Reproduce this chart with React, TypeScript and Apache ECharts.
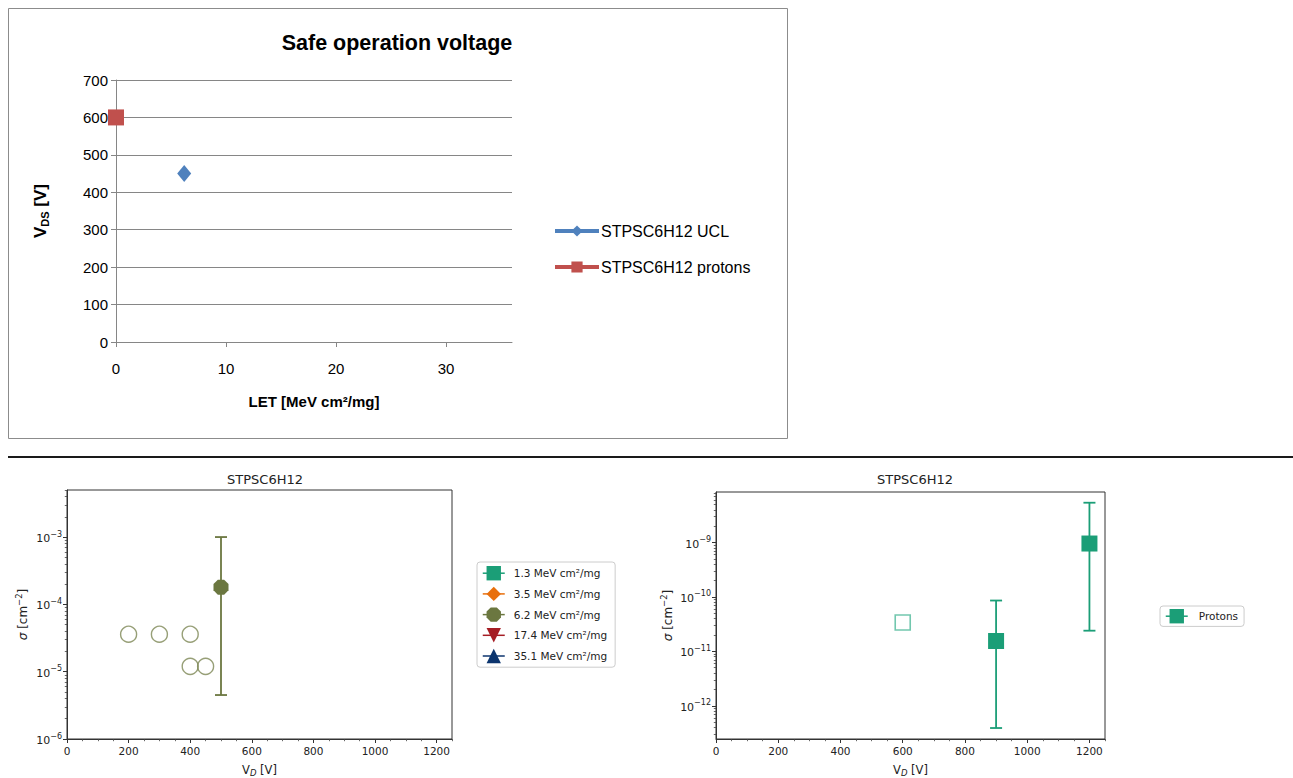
import React, { useEffect, useRef } from "react";
import * as echarts from "echarts";

// ---------- Top chart: Safe operation voltage ----------
const topTitle = "Safe operation voltage";
const uclName = "STPSC6H12 UCL";
const uclLet = [6.2];
const uclVds = [450];
const protonsName = "STPSC6H12 protons";
const protonsLet = [0];
const protonsVds = [600];
const topXTicks = [0, 10, 20, 30];

// ---------- Bottom-left: heavy ions ----------
const ionTitle = "STPSC6H12";
const ionLegend = [
  "1.3 MeV cm²/mg",
  "3.5 MeV cm²/mg",
  "6.2 MeV cm²/mg",
  "17.4 MeV cm²/mg",
  "35.1 MeV cm²/mg",
];
const ionColors = ["#1b9e77", "#e86f0c", "#6b7740", "#a51d24", "#0c356e"];
const octagon = "path://M0.29,0 L0.71,0 L1,0.29 L1,0.71 L0.71,1 L0.29,1 L0,0.71 L0,0.29 Z";
const ionSymbols = ["rect", "diamond", octagon, "triangle", "triangle"];
const ionRotate = [0, 0, 0, 180, 0];
// measured points (only 6.2 MeV cm²/mg has data)
const ion62Vd = [500];
const ion62Sigma = [1.8e-4];
const ion62Low = [4.5e-6];
const ion62High = [1.0e-3];
// no-event limits (open circles)
const ion62LimitVd = [200, 300, 400, 400, 450];
const ion62LimitSigma = [3.6e-5, 3.6e-5, 3.6e-5, 1.2e-5, 1.2e-5];
const ionSigmaMin = 1e-6;
const ionSigmaMax = 5e-3;
const ionDecades = [-6, -5, -4, -3];

// ---------- Bottom-right: protons ----------
const protonTitle = "STPSC6H12";
const protonLegend = "Protons";
const protonColor = "#1b9e77";
const protonVd = [900, 1200];
const protonSigma = [1.55e-11, 9.6e-10];
const protonLow = [3.9e-13, 2.4e-11];
const protonHigh = [8.6e-11, 5.4e-9];
const protonLimitVd = [600];
const protonLimitSigma = [3.4e-11];
const protonSigmaMin = 2.45e-13;
const protonSigmaMax = 8.5e-9;
const protonDecades = [-12, -11, -10, -9];

const vdMax = 1250;
const vdTicks = [0, 200, 400, 600, 800, 1000, 1200];
const minorMultipliers = [2, 3, 4, 5, 6, 7, 8, 9];

const XL = "'Liberation Sans', Arial, sans-serif";
const MPL = "'DejaVu Sans', sans-serif";

const powLabel = (v: number) =>
  Math.abs(v - Math.round(v)) < 1e-6
    ? "{b|10}{p|" + String(Math.round(v)).replace("-", "−") + "}"
    : "";

const lg = (v: number) => Math.log10(v);

function minorLogTicks(lo: number, hi: number) {
  const a = lg(lo), b = lg(hi);
  const out: number[] = [];
  for (let d = Math.floor(a) - 1; d <= Math.ceil(b); d++) {
    for (const m of minorMultipliers) {
      const t = d + lg(m);
      if (t >= a && t <= b) out.push(t);
    }
  }
  return out;
}
const vdMinor = (() => {
  const out: number[] = [];
  for (let v = 50; v <= vdMax; v += 50) if (v % 200 !== 0) out.push(v);
  return out;
})();

function errorBars(xi: number, yi: number, xs: number[], lo: number[], hi: number[], color: string) {
  return {
    type: "custom",
    xAxisIndex: xi,
    yAxisIndex: yi,
    silent: true,
    z: 1,
    data: xs.map((x, i) => [x, lg(lo[i]), lg(hi[i])]),
    encode: { x: 0, y: [1, 2] },
    renderItem: (params: any, api: any) => {
      const x = api.value(0);
      const p1 = api.coord([x, api.value(1)]);
      const p2 = api.coord([x, api.value(2)]);
      const style = { stroke: color, lineWidth: 1.8 };
      return {
        type: "group",
        children: [
          { type: "line", shape: { x1: p1[0], y1: p1[1], x2: p2[0], y2: p2[1] }, style },
          { type: "line", shape: { x1: p1[0] - 6, y1: p1[1], x2: p1[0] + 6, y2: p1[1] }, style },
          { type: "line", shape: { x1: p2[0] - 6, y1: p2[1], x2: p2[0] + 6, y2: p2[1] }, style },
        ],
      };
    },
  };
}

const mplAxisLine = { show: true, onZero: false, lineStyle: { color: "#333", width: 1 } };
const mplTick = { show: true, length: 4, lineStyle: { color: "#333", width: 1 } };
const mplMinorTick = { show: true, length: 2.2, lineStyle: { color: "#444", width: 0.8 } };
const mplLabel = { color: "#222", fontFamily: MPL, fontSize: 10.5, margin: 6 };

function mplXAxes(grid: number, nameCenterGap: number) {
  return [
    {
      type: "value", gridIndex: grid, min: 0, max: vdMax, position: "bottom",
      axisLine: mplAxisLine,
      axisTick: { ...mplTick, customValues: vdTicks },
      axisLabel: { ...mplLabel, customValues: vdTicks, formatter: (v: number) => String(v) },
      splitLine: { show: false },
      name: "{v|V}{s|D}{v| [V]}", nameLocation: "middle", nameGap: nameCenterGap,
      nameTextStyle: {
        rich: {
          v: { fontFamily: MPL, fontSize: 11.5, color: "#222", lineHeight: 14, verticalAlign: "middle" },
          s: { fontFamily: MPL, fontSize: 8.5, fontStyle: "italic", color: "#222", lineHeight: 8, verticalAlign: "bottom" },
        },
      },
    },
    {
      type: "value", gridIndex: grid, min: 0, max: vdMax, position: "bottom",
      axisLine: { show: false, onZero: false },
      axisTick: { ...mplMinorTick, customValues: vdMinor },
      axisLabel: { show: false },
      splitLine: { show: false },
    },
  ];
}

function mplYAxes(grid: number, lo: number, hi: number, decades: number[], gap: number) {
  return [
    {
      type: "value", gridIndex: grid, min: lg(lo), max: lg(hi), position: "left",
      axisLine: mplAxisLine,
      axisTick: { ...mplTick, customValues: decades },
      axisLabel: {
        ...mplLabel, margin: 5, customValues: decades, formatter: powLabel,
        rich: {
          b: { fontFamily: MPL, fontSize: 11, color: "#222", lineHeight: 14, verticalAlign: "bottom" },
          p: { fontFamily: MPL, fontSize: 8, color: "#222", lineHeight: 14, verticalAlign: "top" },
        },
      },
      splitLine: { show: false },
      name: "{g|σ}{t| [cm}{p|−2}{t|]}", nameLocation: "middle", nameGap: gap,
      nameTextStyle: {
        rich: {
          g: { fontFamily: MPL, fontSize: 12, fontStyle: "italic", color: "#222", lineHeight: 15, verticalAlign: "bottom" },
          t: { fontFamily: MPL, fontSize: 12, color: "#222", lineHeight: 15, verticalAlign: "bottom" },
          p: { fontFamily: MPL, fontSize: 8.5, color: "#222", lineHeight: 15, verticalAlign: "top" },
        },
      },
    },
    {
      type: "value", gridIndex: grid, min: lg(lo), max: lg(hi), position: "left",
      axisLine: { show: false, onZero: false },
      axisTick: { ...mplMinorTick, customValues: minorLogTicks(lo, hi) },
      axisLabel: { show: false },
      splitLine: { show: false },
    },
  ];
}

export default function App() {
  const ref = useRef<HTMLDivElement>(null);

  useEffect(() => {
    if (!ref.current) return;
    const chart = echarts.init(ref.current, null, { renderer: "svg" });

    const ionLineSeries = ionLegend.map((name, i) => ({
      type: "line",
      name,
      xAxisIndex: 1,
      yAxisIndex: 1,
      data: i === 2 ? ion62Vd.map((v, k) => [v, lg(ion62Sigma[k])]) : [],
      symbol: ionSymbols[i],
      symbolRotate: ionRotate[i],
      symbolSize: 15,
      showAllSymbol: true,
      itemStyle: { color: ionColors[i] },
      lineStyle: { color: ionColors[i], width: 1.5 },
      clip: false,
      z: 3,
    }));

    const protonSeries = protonVd.map((v, k) => ({
      type: "line",
      name: protonLegend,
      xAxisIndex: 3,
      yAxisIndex: 3,
      data: [[v, lg(protonSigma[k])]],
      symbol: "rect",
      symbolSize: 16,
      itemStyle: { color: protonColor },
      lineStyle: { color: protonColor, width: 1.5 },
      clip: false,
      z: 3,
    }));

    chart.setOption({
      animation: false,
      backgroundColor: "#fff",
      title: [
        { text: topTitle, left: 392, top: 27, textAlign: "center",
          textStyle: { fontFamily: XL, fontSize: 21.5, fontWeight: "bold", color: "#000" } },
        { text: ionTitle, left: 260, top: 468, textAlign: "center",
          textStyle: { fontFamily: MPL, fontSize: 13, fontWeight: "normal", color: "#222" } },
        { text: protonTitle, left: 910, top: 468, textAlign: "center",
          textStyle: { fontFamily: MPL, fontSize: 13, fontWeight: "normal", color: "#222" } },
      ],
      graphic: [
        { type: "rect", shape: { x: 8.5, y: 8.5, width: 779, height: 430 },
          style: { fill: "none", stroke: "#8c8c8c", lineWidth: 1 }, silent: true },
        { type: "line", shape: { x1: 8, y1: 457, x2: 1293, y2: 457 },
          style: { stroke: "#1a1a1a", lineWidth: 2 }, silent: true },
      ],
      grid: [
        { left: 116, top: 80, width: 396, height: 262, containLabel: false },
        { left: 67, top: 490, width: 385, height: 250, containLabel: false,
          show: true, borderColor: "#333", borderWidth: 1, backgroundColor: "transparent" },
        { left: 716, top: 492, width: 389, height: 250, containLabel: false,
          show: true, borderColor: "#333", borderWidth: 1, backgroundColor: "transparent" },
      ],
      xAxis: [
        {
          type: "value", gridIndex: 0, min: 0, max: 36,
          axisLine: { show: true, onZero: false, lineStyle: { color: "#868686" } },
          axisTick: { show: true, length: 5, customValues: topXTicks, lineStyle: { color: "#868686" } },
          axisLabel: { customValues: topXTicks, fontFamily: XL, fontSize: 15, color: "#000", margin: 19 },
          splitLine: { show: false },
          name: "LET [MeV cm²/mg]", nameLocation: "middle", nameGap: 52,
          nameTextStyle: { fontFamily: XL, fontSize: 15, fontWeight: "bold", color: "#000" },
        },
        ...mplXAxes(1, 24),
        ...mplXAxes(2, 24),
      ],
      yAxis: [
        {
          type: "value", gridIndex: 0, min: 0, max: 700, interval: 100,
          axisLine: { show: true, lineStyle: { color: "#868686" } },
          axisTick: { show: true, length: 5, lineStyle: { color: "#868686" } },
          axisLabel: { fontFamily: XL, fontSize: 15, color: "#000", margin: 8 },
          splitLine: { show: true, lineStyle: { color: "#868686", width: 1 } },
          name: "{b|V}{s|DS}{b| [V]}", nameLocation: "middle", nameGap: 66,
          nameTextStyle: {
            rich: {
              b: { fontFamily: XL, fontSize: 17, fontWeight: "bold", color: "#000", lineHeight: 20, verticalAlign: "middle" },
              s: { fontFamily: XL, fontSize: 11, fontWeight: "bold", color: "#000", lineHeight: 11, verticalAlign: "bottom" },
            },
          },
        },
        ...mplYAxes(1, ionSigmaMin, ionSigmaMax, ionDecades, 38),
        ...mplYAxes(2, protonSigmaMin, protonSigmaMax, protonDecades, 42),
      ],
      legend: [
        {
          data: [uclName, protonsName],
          orient: "vertical", left: 548, top: 218,
          itemWidth: 44, itemHeight: 14, itemGap: 20,
          lineStyle: { width: 4 },
          textStyle: { fontFamily: XL, fontSize: 16, color: "#000", padding: [0, 0, 0, -3] },
        },
        {
          data: ionLegend,
          orient: "vertical", left: 477, top: 562,
          itemWidth: 22, itemHeight: 18, itemGap: 6.3,
          padding: [4, 8, 4, 5],
          lineStyle: { width: 1.5 },
          borderColor: "#cccccc", borderWidth: 1, borderRadius: 3,
          backgroundColor: "#fff",
          textStyle: { fontFamily: MPL, fontSize: 10.5, color: "#222", padding: [0, 0, 0, 4] },
        },
        {
          data: [protonLegend],
          orient: "vertical", left: 1160, top: 606,
          itemWidth: 22, itemHeight: 18, itemGap: 5,
          padding: [3, 6, 3, 5],
          lineStyle: { width: 1.5 },
          borderColor: "#cccccc", borderWidth: 1, borderRadius: 3,
          backgroundColor: "#fff",
          textStyle: { fontFamily: MPL, fontSize: 10.5, color: "#222", padding: [0, 0, 0, 6] },
        },
      ],
      series: [
        {
          type: "line", name: uclName, xAxisIndex: 0, yAxisIndex: 0,
          data: uclLet.map((x, i) => [x, uclVds[i]]),
          symbol: "diamond", symbolSize: [14, 17], clip: false,
          itemStyle: { color: "#4f81bd" }, lineStyle: { color: "#4f81bd", width: 4 },
        },
        {
          type: "line", name: protonsName, xAxisIndex: 0, yAxisIndex: 0,
          data: protonsLet.map((x, i) => [x, protonsVds[i]]),
          symbol: "rect", symbolSize: 16, clip: false,
          itemStyle: { color: "#c0504d" }, lineStyle: { color: "#c0504d", width: 4 },
        },
        errorBars(1, 1, ion62Vd, ion62Low, ion62High, ionColors[2]),
        {
          type: "scatter", name: "6.2 limits", xAxisIndex: 1, yAxisIndex: 1,
          data: ion62LimitVd.map((v, i) => [v, lg(ion62LimitSigma[i])]),
          symbol: "circle", symbolSize: 16,
          itemStyle: { color: "rgba(0,0,0,0)", borderColor: "#7d8755", borderWidth: 1.4 },
          z: 3,
        },
        ...ionLineSeries,
        errorBars(3, 3, protonVd, protonLow, protonHigh, protonColor),
        {
          type: "scatter", name: "Protons limit", xAxisIndex: 3, yAxisIndex: 3,
          data: protonLimitVd.map((v, i) => [v, lg(protonLimitSigma[i])]),
          symbol: "rect", symbolSize: 15,
          itemStyle: { color: "rgba(0,0,0,0)", borderColor: "#4fb99a", borderWidth: 1.6 },
          z: 3,
        },
        ...protonSeries,
      ],
    });

    return () => chart.dispose();
  }, []);

  return (
    <div
      ref={ref}
      style={{ position: "absolute", left: 0, top: 0, width: 1293, height: 778 }}
    />
  );
}
